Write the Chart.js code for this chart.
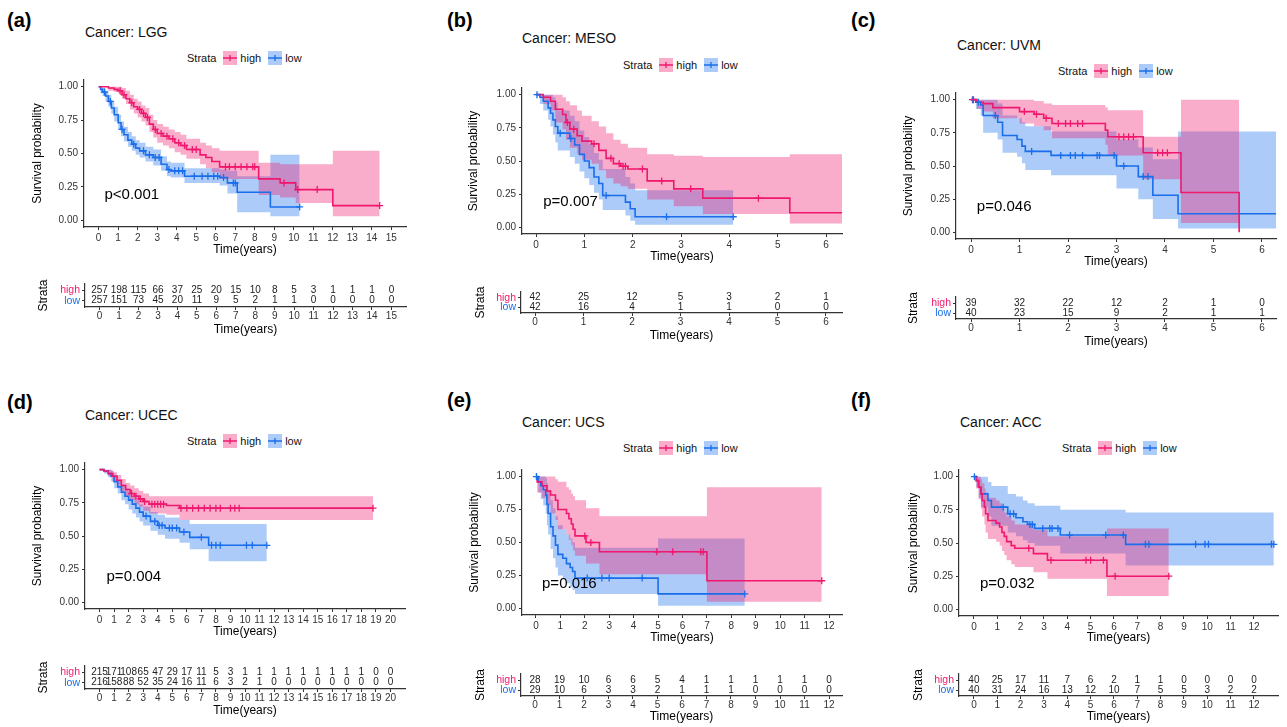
<!DOCTYPE html>
<html lang="en">
<head>
<meta charset="UTF-8">
<title>Survival by strata - six cancers</title>
<script src="https://cdn.jsdelivr.net/npm/chart.js@4.4.0/dist/chart.umd.min.js"></script>
<style>
  body { margin: 0; background: #fff; font-family: 'Liberation Sans', Arial, Helvetica, sans-serif; }
  #fig { position: relative; width: 1287px; height: 727px; overflow: hidden; background: #fff; }
  #fig canvas, #fig .lbl { position: absolute; }
  .tag { font-weight: bold; font-size: 20px; line-height: 24px; color: #000; }
  .ttl { font-size: 14px; line-height: 16px; color: #111; white-space: nowrap; }
  .leg { font-size: 11px; line-height: 14px; color: #111; display: flex; align-items: center; white-space: nowrap; }
  .leg svg { display: block; }
</style>
</head>
<body>
<div id="fig"></div>
<script>
// ---------- text ----------
const panelTags = ['(a)', '(b)', '(c)', '(d)', '(e)', '(f)'];
const cancers = ['LGG', 'MESO', 'UVM', 'UCEC', 'UCS', 'ACC'];
const pValues = ['p<0.001', 'p=0.007', 'p=0.046', 'p=0.004', 'p=0.016', 'p=0.032'];
const strata = ['high', 'low'];
const yTickVals = [0, 0.25, 0.5, 0.75, 1];

// ---------- x ticks ----------
const ticks15 = [0, 1, 2, 3, 4, 5, 6, 7, 8, 9, 10, 11, 12, 13, 14, 15];
const ticks6 = [0, 1, 2, 3, 4, 5, 6];
const ticks20 = [0, 1, 2, 3, 4, 5, 6, 7, 8, 9, 10, 11, 12, 13, 14, 15, 16, 17, 18, 19, 20];
const ticks12 = [0, 1, 2, 3, 4, 5, 6, 7, 8, 9, 10, 11, 12];

// ---------- numbers at risk ----------
const lggRiskHigh = [257, 198, 115, 66, 37, 25, 20, 15, 10, 8, 5, 3, 1, 1, 1, 0];
const lggRiskLow = [257, 151, 73, 45, 20, 11, 9, 5, 2, 1, 1, 0, 0, 0, 0, 0];
const mesoRiskHigh = [42, 25, 12, 5, 3, 2, 1];
const mesoRiskLow = [42, 16, 4, 1, 1, 0, 0];
const uvmRiskHigh = [39, 32, 22, 12, 2, 1, 0];
const uvmRiskLow = [40, 23, 15, 9, 2, 1, 1];
const ucecRiskHigh = [215, 171, 108, 65, 47, 29, 17, 11, 5, 3, 1, 1, 1, 1, 1, 1, 1, 1, 1, 0, 0];
const ucecRiskLow = [216, 158, 88, 52, 35, 24, 16, 11, 6, 3, 2, 1, 0, 0, 0, 0, 0, 0, 0, 0, 0];
const ucsRiskHigh = [28, 19, 10, 6, 6, 5, 4, 1, 1, 1, 1, 1, 0];
const ucsRiskLow = [29, 10, 6, 3, 3, 2, 1, 1, 1, 0, 0, 0, 0];
const accRiskHigh = [40, 25, 17, 11, 7, 6, 2, 1, 1, 0, 0, 0, 0];
const accRiskLow = [40, 31, 24, 16, 13, 12, 10, 7, 5, 5, 3, 2, 2];

// ---------- KM curves: event times, survival, upper / lower CI, censored times ----------
// LGG
const lggHighT = [0, 0.5, 0.8, 1.0, 1.2, 1.4, 1.6, 1.8, 2.0, 2.2, 2.4, 2.6, 2.8, 3.0, 3.3, 3.6, 3.9, 4.2, 4.5, 5.2, 5.5, 5.8, 6.2, 8.2, 9.3, 10.1, 12.0, 14.4];
const lggHighS = [1, 0.99, 0.98, 0.97, 0.94, 0.91, 0.88, 0.85, 0.83, 0.80, 0.77, 0.72, 0.68, 0.65, 0.63, 0.61, 0.58, 0.56, 0.53, 0.49, 0.47, 0.44, 0.40, 0.31, 0.28, 0.23, 0.11, 0.11];
const lggHighU = [1, 1, 1, 1, 0.99, 0.97, 0.94, 0.91, 0.89, 0.86, 0.84, 0.79, 0.75, 0.72, 0.70, 0.68, 0.66, 0.64, 0.61, 0.58, 0.56, 0.54, 0.52, 0.43, 0.42, 0.42, 0.52, 0.52];
const lggHighL = [1, 0.97, 0.96, 0.95, 0.91, 0.87, 0.83, 0.80, 0.77, 0.74, 0.71, 0.66, 0.62, 0.58, 0.56, 0.54, 0.51, 0.49, 0.46, 0.42, 0.39, 0.36, 0.31, 0.19, 0.17, 0.13, 0.03, 0.03];
const lggHighC = [1.1, 1.3, 1.7, 2.1, 2.3, 2.5, 2.9, 3.2, 3.5, 3.8, 4.1, 4.4, 4.8, 5.0, 6.5, 6.7, 7.0, 7.3, 7.6, 7.9, 8.0, 9.5, 10.2, 11.2, 14.4];
const lggLowT = [0, 0.1, 0.2, 0.35, 0.5, 0.65, 0.8, 1.0, 1.15, 1.3, 1.5, 1.7, 1.9, 2.1, 2.4, 2.8, 3.2, 3.5, 3.7, 4.4, 6.2, 6.6, 7.1, 8.8, 10.3];
const lggLowS = [1, 0.98, 0.96, 0.93, 0.89, 0.84, 0.79, 0.73, 0.68, 0.64, 0.60, 0.57, 0.54, 0.52, 0.49, 0.47, 0.42, 0.38, 0.37, 0.33, 0.32, 0.28, 0.21, 0.10, 0.10];
const lggLowU = [1, 1, 0.99, 0.97, 0.94, 0.89, 0.85, 0.79, 0.74, 0.70, 0.66, 0.63, 0.60, 0.58, 0.55, 0.53, 0.48, 0.44, 0.43, 0.39, 0.38, 0.37, 0.33, 0.49, 0.49];
const lggLowL = [1, 0.95, 0.93, 0.89, 0.85, 0.80, 0.74, 0.68, 0.63, 0.59, 0.55, 0.52, 0.49, 0.47, 0.44, 0.41, 0.37, 0.33, 0.32, 0.28, 0.26, 0.20, 0.06, 0.03, 0.03];
const lggLowC = [0.3, 0.6, 1.2, 1.8, 2.3, 2.6, 2.9, 3.1, 3.6, 3.9, 4.1, 4.3, 4.9, 5.3, 5.6, 5.9, 6.1, 6.4, 6.9, 7.0, 10.3];
// MESO
const mesoHighT = [0, 0.15, 0.3, 0.4, 0.55, 0.62, 0.7, 0.85, 0.95, 1.15, 1.3, 1.45, 1.6, 1.75, 1.9, 2.3, 2.85, 3.45, 5.25, 6.33];
const mesoHighS = [1, 0.98, 0.95, 0.89, 0.85, 0.79, 0.74, 0.69, 0.65, 0.63, 0.58, 0.52, 0.48, 0.46, 0.44, 0.35, 0.29, 0.22, 0.11, 0.11];
const mesoHighU = [1, 1, 1, 1, 0.98, 0.95, 0.92, 0.88, 0.84, 0.80, 0.76, 0.71, 0.66, 0.63, 0.60, 0.55, 0.54, 0.53, 0.55, 0.55];
const mesoHighL = [1, 0.93, 0.88, 0.79, 0.74, 0.66, 0.60, 0.55, 0.51, 0.48, 0.43, 0.37, 0.33, 0.31, 0.29, 0.21, 0.16, 0.10, 0.03, 0.03];
const mesoHighC = [0.65, 0.78, 1.2, 1.55, 1.72, 1.8, 1.85, 2.2, 2.6, 3.2, 4.6];
const mesoLowT = [0, 0.08, 0.15, 0.25, 0.3, 0.35, 0.4, 0.45, 0.7, 0.8, 0.9, 1.0, 1.1, 1.2, 1.3, 1.38, 1.85, 1.95, 2.05, 4.08];
const mesoLowS = [1, 0.98, 0.95, 0.90, 0.86, 0.81, 0.76, 0.71, 0.67, 0.62, 0.55, 0.50, 0.45, 0.38, 0.33, 0.24, 0.19, 0.14, 0.08, 0.08];
const mesoLowU = [1, 1, 1, 1, 1, 0.98, 0.94, 0.88, 0.84, 0.80, 0.73, 0.68, 0.63, 0.56, 0.51, 0.44, 0.38, 0.33, 0.28, 0.28];
const mesoLowL = [1, 0.93, 0.88, 0.81, 0.76, 0.70, 0.64, 0.58, 0.53, 0.48, 0.42, 0.37, 0.32, 0.26, 0.21, 0.13, 0.09, 0.05, 0.02, 0.02];
const mesoLowC = [0.02, 0.5, 0.72, 1.45, 2.7, 4.08];
// UVM
const uvmHighT = [0, 0.12, 0.25, 0.45, 1.0, 1.3, 1.5, 1.67, 2.77, 2.82, 3.55, 4.33, 5.53];
const uvmHighS = [1, 0.98, 0.97, 0.94, 0.91, 0.89, 0.86, 0.82, 0.77, 0.72, 0.60, 0.30, 0];
const uvmHighU = [1, 1, 1, 1, 1, 0.99, 0.97, 0.96, 0.94, 0.92, 0.72, 1, 1];
const uvmHighL = [1, 0.93, 0.91, 0.86, 0.82, 0.80, 0.77, 0.71, 0.66, 0.58, 0.40, 0.07, 0.07];
const uvmHighC = [0.05, 1.1, 1.35, 1.55, 1.8, 1.95, 2.05, 2.2, 2.3, 3.05, 3.15, 3.25, 3.35, 3.85, 3.95, 4.05];
const uvmLowT = [0, 0.1, 0.2, 0.25, 0.55, 0.65, 0.95, 1.05, 1.12, 1.65, 3.0, 3.45, 3.75, 4.27, 6.29];
const uvmLowS = [1, 0.98, 0.96, 0.88, 0.83, 0.73, 0.70, 0.65, 0.61, 0.58, 0.50, 0.42, 0.28, 0.14, 0.14];
const uvmLowU = [1, 1, 1, 1, 0.97, 0.88, 0.86, 0.83, 0.80, 0.76, 0.70, 0.64, 0.55, 0.76, 0.76];
const uvmLowL = [1, 0.93, 0.88, 0.75, 0.70, 0.60, 0.57, 0.52, 0.47, 0.43, 0.33, 0.25, 0.10, 0.03, 0.03];
const uvmLowC = [0.03, 0.15, 0.5, 1.25, 1.85, 2.05, 2.15, 2.3, 2.6, 2.65, 2.95, 3.15, 3.55, 3.65];
// UCEC
const ucecHighT = [0, 0.3, 0.6, 0.9, 1.2, 1.5, 1.8, 2.1, 2.4, 2.7, 3.0, 3.4, 4.6, 5.5, 18.8];
const ucecHighS = [1, 0.99, 0.97, 0.95, 0.92, 0.88, 0.85, 0.82, 0.80, 0.78, 0.76, 0.74, 0.73, 0.71, 0.71];
const ucecHighU = [1, 1, 1, 0.98, 0.96, 0.93, 0.90, 0.88, 0.86, 0.84, 0.82, 0.80, 0.80, 0.80, 0.80];
const ucecHighL = [1, 0.98, 0.95, 0.91, 0.88, 0.83, 0.80, 0.77, 0.74, 0.72, 0.69, 0.67, 0.66, 0.62, 0.62];
const ucecHighC = [2.2, 2.5, 2.8, 3.1, 3.6, 3.8, 4.0, 4.2, 4.4, 5.6, 6.0, 6.4, 6.8, 7.2, 7.6, 8.0, 8.3, 9.0, 9.3, 9.6, 18.8];
const ucecLowT = [0, 0.3, 0.6, 0.8, 1.0, 1.25, 1.5, 1.75, 2.0, 2.25, 2.5, 2.75, 3.0, 3.5, 4.0, 4.5, 5.5, 6.2, 7.5, 11.5];
const ucecLowS = [1, 0.99, 0.97, 0.95, 0.91, 0.87, 0.83, 0.80, 0.77, 0.74, 0.71, 0.68, 0.65, 0.61, 0.58, 0.56, 0.53, 0.49, 0.43, 0.43];
const ucecLowU = [1, 1, 1, 0.99, 0.96, 0.92, 0.89, 0.86, 0.83, 0.80, 0.77, 0.74, 0.72, 0.68, 0.66, 0.64, 0.62, 0.59, 0.59, 0.59];
const ucecLowL = [1, 0.97, 0.94, 0.91, 0.86, 0.82, 0.77, 0.74, 0.70, 0.67, 0.64, 0.61, 0.58, 0.54, 0.51, 0.48, 0.45, 0.40, 0.31, 0.31];
const ucecLowC = [3.2, 3.8, 4.1, 4.3, 4.8, 5.0, 5.3, 5.8, 7.0, 7.7, 8.0, 8.3, 10.1, 10.5, 11.5];
// UCS
const ucsHighT = [0, 0.05, 0.25, 0.45, 0.6, 0.8, 0.9, 1.25, 1.35, 1.45, 1.52, 1.6, 2.05, 2.6, 7.0, 11.7];
const ucsHighS = [1, 0.96, 0.93, 0.89, 0.86, 0.82, 0.75, 0.72, 0.68, 0.64, 0.60, 0.55, 0.50, 0.43, 0.21, 0.21];
const ucsHighU = [1, 1, 1, 1, 1, 0.98, 0.96, 0.92, 0.90, 0.87, 0.85, 0.82, 0.76, 0.70, 0.92, 0.92];
const ucsHighL = [1, 0.88, 0.84, 0.78, 0.72, 0.67, 0.60, 0.56, 0.52, 0.48, 0.44, 0.40, 0.34, 0.26, 0.05, 0.05];
const ucsHighC = [2.0, 2.25, 4.95, 5.6, 6.75, 6.85, 11.7];
const ucsLowT = [0, 0.1, 0.2, 0.3, 0.4, 0.45, 0.5, 0.6, 0.7, 0.8, 0.9, 1.1, 1.25, 1.4, 1.5, 1.6, 5.0, 8.55];
const ucsLowS = [1, 0.96, 0.93, 0.90, 0.86, 0.79, 0.72, 0.62, 0.55, 0.48, 0.41, 0.38, 0.34, 0.31, 0.28, 0.23, 0.11, 0.11];
const ucsLowU = [1, 1, 1, 1, 0.99, 0.95, 0.90, 0.82, 0.76, 0.70, 0.63, 0.60, 0.56, 0.53, 0.50, 0.46, 0.53, 0.53];
const ucsLowL = [1, 0.88, 0.83, 0.78, 0.72, 0.63, 0.56, 0.45, 0.38, 0.31, 0.25, 0.22, 0.19, 0.16, 0.14, 0.11, 0.02, 0.02];
const ucsLowC = [0.02, 2.1, 2.7, 3.0, 4.35, 8.55];
// ACC
const accHighT = [0, 0.1, 0.2, 0.3, 0.35, 0.45, 0.5, 0.6, 0.95, 1.1, 1.2, 1.3, 1.4, 1.6, 1.75, 2.55, 3.15, 5.7, 8.35];
const accHighS = [1, 0.97, 0.92, 0.87, 0.82, 0.77, 0.72, 0.67, 0.65, 0.62, 0.58, 0.55, 0.51, 0.48, 0.46, 0.42, 0.37, 0.25, 0.25];
const accHighU = [1, 1, 1, 0.98, 0.95, 0.91, 0.88, 0.84, 0.82, 0.80, 0.76, 0.73, 0.70, 0.67, 0.64, 0.60, 0.55, 0.61, 0.61];
const accHighL = [1, 0.91, 0.83, 0.76, 0.70, 0.64, 0.58, 0.53, 0.51, 0.48, 0.44, 0.41, 0.37, 0.34, 0.32, 0.28, 0.23, 0.10, 0.10];
const accHighC = [2.35, 3.3, 4.8, 5.0, 5.55, 6.05, 8.35];
const accLowT = [0, 0.1, 0.2, 0.3, 0.6, 0.75, 1.45, 1.8, 2.1, 2.3, 2.6, 3.7, 6.5, 12.85];
const accLowS = [1, 0.97, 0.92, 0.87, 0.82, 0.77, 0.72, 0.69, 0.66, 0.64, 0.61, 0.56, 0.49, 0.49];
const accLowU = [1, 1, 1, 1, 0.96, 0.93, 0.87, 0.85, 0.82, 0.80, 0.78, 0.75, 0.73, 0.73];
const accLowL = [1, 0.92, 0.84, 0.77, 0.70, 0.63, 0.58, 0.55, 0.52, 0.50, 0.48, 0.42, 0.33, 0.33];
const accLowC = [0.02, 1.25, 1.55, 1.7, 2.4, 2.5, 2.95, 3.25, 3.35, 3.6, 4.1, 5.65, 6.4, 7.35, 7.5, 9.5, 9.9, 10.05, 12.75, 12.85];

// ---------- style ----------
const COL_HIGH = '#F0186E', COL_LOW = '#1A6EEB';
const FILL_HIGH = 'rgba(240,24,110,0.36)', FILL_LOW = 'rgba(26,110,235,0.36)';
const AXIS = '#333', TICK = '#333';
const PAD_T = 12, PAD_R = 12, TITLE_OFF = 7.2;

Chart.defaults.font.family = "'Liberation Sans', Arial, Helvetica, sans-serif";
Chart.defaults.color = TICK;

// panel placement (page pixels)
const panels = [
  { tag: [7, 20], title: [85, 32], legend: [187, 58], xr: [-0.75, 15.75], ticks: ticks15, p: [0.3, 0.19],
    km: { l: 84, r: 406, t: 80, b: 227, yt: 37, xt: 250 }, risk: { l: 85, r: 406, t: 284, b: 307, yt: 43, xt: 330 },
    high: [lggHighT, lggHighS, lggHighU, lggHighL, lggHighC], low: [lggLowT, lggLowS, lggLowU, lggLowL, lggLowC],
    nHigh: lggRiskHigh, nLow: lggRiskLow },
  { tag: [447, 20], title: [522, 38], legend: [623, 65], xr: [-0.29, 6.33], ticks: ticks6, p: [0.15, 0.19],
    km: { l: 522, r: 842, t: 88, b: 234, yt: 473, xt: 257 }, risk: { l: 521, r: 842, t: 292, b: 313, yt: 480, xt: 336 },
    high: [mesoHighT, mesoHighS, mesoHighU, mesoHighL, mesoHighC], low: [mesoLowT, mesoLowS, mesoLowU, mesoLowL, mesoLowC],
    nHigh: mesoRiskHigh, nLow: mesoRiskLow },
  { tag: [851, 20], title: [957, 45], legend: [1058, 71], xr: [-0.31, 6.29], ticks: ticks6, p: [0.12, 0.19],
    km: { l: 956, r: 1276, t: 93, b: 239, yt: 908, xt: 262 }, risk: { l: 956, r: 1276, t: 297, b: 319, yt: 913, xt: 342 },
    high: [uvmHighT, uvmHighS, uvmHighU, uvmHighL, uvmHighC], low: [uvmLowT, uvmLowS, uvmLowU, uvmLowL, uvmLowC],
    nHigh: uvmRiskHigh, nLow: uvmRiskLow },
  { tag: [7, 402], title: [85, 415], legend: [187, 441], xr: [-1, 21], ticks: ticks20, p: [0.48, 0.19],
    km: { l: 85, r: 405, t: 463, b: 609, yt: 37, xt: 632 }, risk: { l: 85, r: 405, t: 666, b: 689, yt: 43, xt: 711 },
    high: [ucecHighT, ucecHighS, ucecHighU, ucecHighL, ucecHighC], low: [ucecLowT, ucecLowS, ucecLowU, ucecLowL, ucecLowC],
    nHigh: ucecRiskHigh, nLow: ucecRiskLow },
  { tag: [447, 400], title: [522, 422], legend: [623, 448], xr: [-0.57, 12.53], ticks: ticks12, p: [0.25, 0.19],
    km: { l: 522, r: 842, t: 470, b: 615, yt: 474, xt: 638 }, risk: { l: 521, r: 842, t: 674, b: 696, yt: 480, xt: 717 },
    high: [ucsHighT, ucsHighS, ucsHighU, ucsHighL, ucsHighC], low: [ucsLowT, ucsLowS, ucsLowU, ucsLowL, ucsLowC],
    nHigh: ucsRiskHigh, nLow: ucsRiskLow },
  { tag: [851, 400], title: [960, 422], legend: [1062, 448], xr: [-0.64, 13.03], ticks: ticks12, p: [0.26, 0.19],
    km: { l: 959, r: 1278, t: 470, b: 616, yt: 913, xt: 638 }, risk: { l: 959, r: 1278, t: 674, b: 696, yt: 918, xt: 717 },
    high: [accHighT, accHighS, accHighU, accHighL, accHighC], low: [accLowT, accLowS, accLowU, accLowL, accLowC],
    nHigh: accRiskHigh, nLow: accRiskLow }
];

const fig = document.getElementById('fig');

function addCanvas(x, y, w, h) {
  const c = document.createElement('canvas');
  c.width = w; c.height = h;
  c.style.left = x + 'px'; c.style.top = y + 'px';
  c.style.width = w + 'px'; c.style.height = h + 'px';
  fig.appendChild(c);
  return c;
}

function addText(cls, x, y, html) {
  const d = document.createElement('div');
  d.className = 'lbl ' + cls;
  d.style.left = x + 'px'; d.style.top = y + 'px';
  d.innerHTML = html;
  fig.appendChild(d);
  return d;
}

function keySvg(line, fill) {
  return '<svg width="14" height="14" viewBox="0 0 14 14"><rect width="14" height="14" fill="' + fill + '"/>' +
    '<line x1="0" y1="7" x2="14" y2="7" stroke="' + line + '" stroke-width="1.5"/>' +
    '<line x1="7" y1="4" x2="7" y2="10" stroke="' + line + '" stroke-width="1.3"/></svg>';
}

// value of a KM step function at time t
function stepAt(T, S, t) {
  let v = S[0];
  for (let i = 0; i < T.length; i++) if (T[i] <= t) v = S[i];
  return v;
}

function pts(T, V) { return T.map((t, i) => ({ x: t, y: V[i] })); }

function xAxis(xr, ticks, h, pad) {
  return {
    type: 'linear', min: xr[0], max: xr[1],
    afterBuildTicks: s => { s.ticks = ticks.map(v => ({ value: v })); },
    afterFit: s => { s.height = h; },
    grid: { drawOnChartArea: false, drawTicks: true, tickLength: 3, color: AXIS },
    border: { display: true, color: AXIS, width: 1.2 },
    ticks: { color: TICK, font: { size: 10 }, padding: pad, maxRotation: 0, autoSkip: false, callback: v => String(v) },
    title: { display: true, text: 'Time(years)', color: '#000', font: { size: 12 }, padding: 0 }
  };
}

const pLabel = {
  id: 'pLabel',
  afterDatasetsDraw(chart, args, opts) {
    if (!opts || !opts.text) return;
    const { ctx, scales } = chart;
    ctx.save();
    ctx.font = "15px 'Liberation Sans', Arial, sans-serif";
    ctx.fillStyle = '#000';
    ctx.textBaseline = 'middle';
    ctx.fillText(opts.text, scales.x.getPixelForValue(opts.x), scales.y.getPixelForValue(opts.y));
    ctx.restore();
  }
};

const riskNumbers = {
  id: 'riskNumbers',
  afterDatasetsDraw(chart) {
    const ctx = chart.ctx;
    ctx.save();
    ctx.font = "10px 'Liberation Sans', Arial, sans-serif";
    ctx.fillStyle = '#222';
    ctx.textAlign = 'center';
    ctx.textBaseline = 'middle';
    chart.data.datasets.forEach((ds, di) => {
      chart.getDatasetMeta(di).data.forEach((pt, i) => ctx.fillText(String(ds.counts[i]), pt.x, pt.y));
    });
    ctx.restore();
  }
};

function groupSets(g, line, fill) {
  const [T, S, U, L, C] = g;
  const none = 'rgba(0,0,0,0)';
  return [
    { data: pts(T, L), stepped: true, borderColor: none, borderWidth: 0, pointRadius: 0, fill: false, order: 3 },
    { data: pts(T, U), stepped: true, borderColor: none, borderWidth: 0, pointRadius: 0, fill: '-1', backgroundColor: fill, order: 3 },
    { data: pts(T, S), stepped: true, borderColor: line, borderWidth: 1.6, pointRadius: 0, fill: false, order: 1 },
    { data: C.map(t => ({ x: t, y: stepAt(T, S, t) })), showLine: false, pointStyle: 'cross', pointRadius: 3.5,
      pointBorderColor: line, pointBorderWidth: 1.3, borderColor: line, fill: false, order: 0 }
  ];
}

function buildKM(P, idx) {
  const b = P.km;
  const cl = Math.round(b.yt - TITLE_OFF), ct = b.t - PAD_T;
  const yW = b.l - cl, xH = Math.round(b.xt + TITLE_OFF - b.b);
  const W = b.r + PAD_R - cl, H = b.b + xH - ct;
  const cv = addCanvas(cl, ct, W, H);
  new Chart(cv, {
    type: 'line',
    data: { datasets: [...groupSets(P.high, COL_HIGH, FILL_HIGH), ...groupSets(P.low, COL_LOW, FILL_LOW)] },
    options: {
      responsive: false, animation: false, events: [],
      layout: { padding: { top: PAD_T, right: PAD_R, left: 0, bottom: 0 } },
      elements: { line: { tension: 0 } },
      plugins: { legend: { display: false }, tooltip: { enabled: false },
        pLabel: { text: pValues[idx], x: P.p[0], y: P.p[1] } },
      scales: {
        x: xAxis(P.xr, P.ticks, xH, 2),
        y: {
          type: 'linear', min: -0.05, max: 1.05,
          afterBuildTicks: s => { s.ticks = yTickVals.map(v => ({ value: v })); },
          afterFit: s => { s.width = yW; },
          grid: { drawOnChartArea: false, drawTicks: true, tickLength: 3, color: AXIS },
          border: { display: true, color: AXIS, width: 1.2 },
          ticks: { color: TICK, font: { size: 10 }, padding: 3, callback: v => v.toFixed(2) },
          title: { display: true, text: 'Survival probability', color: '#000', font: { size: 12 }, padding: 0 }
        }
      }
    },
    plugins: [pLabel]
  });
}

function buildRisk(P) {
  const b = P.risk;
  const cl = Math.round(b.yt - TITLE_OFF), ct = b.t - PAD_T;
  const yW = b.l - cl, xH = Math.round(b.xt + TITLE_OFF - b.b);
  const W = b.r + PAD_R - cl, H = b.b + xH - ct;
  const cv = addCanvas(cl, ct, W, H);
  new Chart(cv, {
    type: 'line',
    data: {
      datasets: [
        { data: P.ticks.map(t => ({ x: t, y: 2 })), counts: P.nHigh, showLine: false, pointRadius: 0 },
        { data: P.ticks.map(t => ({ x: t, y: 1 })), counts: P.nLow, showLine: false, pointRadius: 0 }
      ]
    },
    options: {
      responsive: false, animation: false, events: [],
      layout: { padding: { top: PAD_T, right: PAD_R, left: 0, bottom: 0 } },
      plugins: { legend: { display: false }, tooltip: { enabled: false } },
      scales: {
        x: xAxis(P.xr, P.ticks, xH, 0),
        y: {
          type: 'linear', min: 0.4, max: 2.6,
          afterBuildTicks: s => { s.ticks = [{ value: 1 }, { value: 2 }]; },
          afterFit: s => { s.width = yW; },
          grid: { drawOnChartArea: false, drawTicks: true, tickLength: 3, color: AXIS },
          border: { display: true, color: AXIS, width: 1.2 },
          ticks: {
            font: { size: 10.5 }, padding: 2,
            color: c => (c.tick && c.tick.value === 2 ? COL_HIGH : COL_LOW),
            callback: v => (v === 2 ? strata[0] : strata[1])
          },
          title: { display: true, text: 'Strata', color: '#000', font: { size: 12 }, padding: 0 }
        }
      }
    },
    plugins: [riskNumbers]
  });
}

panels.forEach((P, i) => {
  addText('tag', P.tag[0], P.tag[1] - 12, panelTags[i]);
  addText('ttl', P.title[0], P.title[1] - 8, 'Cancer: ' + cancers[i]);
  addText('leg', P.legend[0], P.legend[1] - 7,
    '<span style="margin-right:7px">Strata</span>' + keySvg(COL_HIGH, FILL_HIGH) +
    '<span style="margin:0 7px 0 3px">' + strata[0] + '</span>' + keySvg(COL_LOW, FILL_LOW) +
    '<span style="margin-left:3px">' + strata[1] + '</span>');
  buildKM(P, i);
  buildRisk(P);
});
</script>
</body>
</html>
